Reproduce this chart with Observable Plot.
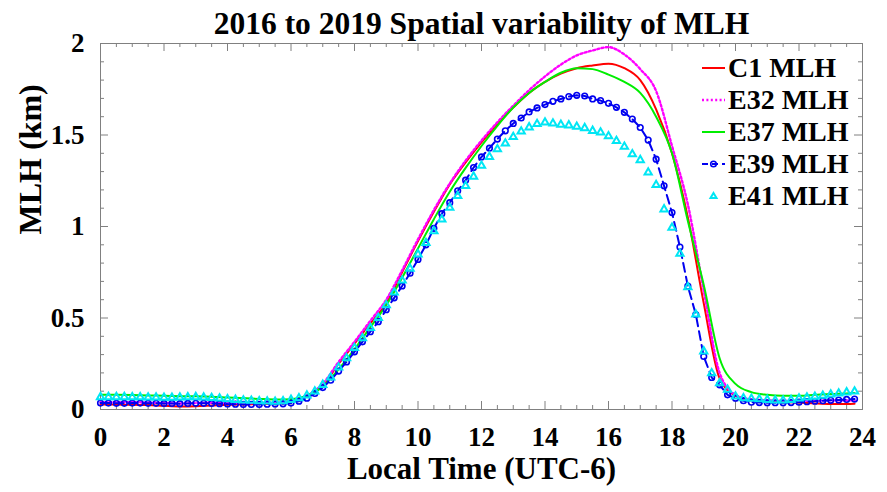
<!DOCTYPE html>
<html><head><meta charset="utf-8">
<script src="https://cdn.jsdelivr.net/npm/d3@7"></script>
<script src="https://cdn.jsdelivr.net/npm/@observablehq/plot@0.6"></script>
<style>
html,body{margin:0;padding:0;background:#fff;}
#wrap{position:relative;width:887px;height:492px;font-family:"Liberation Serif","Times New Roman",serif;}
#legend{position:absolute;left:701px;top:52px;}
.row{display:flex;align-items:center;height:32px;font-weight:bold;font-size:28px;color:#000;line-height:32px;}
.row svg{margin-right:2px;display:block}
</style></head><body>
<div id="wrap"><div id="chart"></div><div id="legend"></div></div>
<script>
// ---- data ----
const titleText = "2016 to 2019 Spatial variability of MLH";
const xLabel = "Local Time (UTC-6)";
const yLabel = "MLH (km)";
const seriesNames = ["C1 MLH", "E32 MLH", "E37 MLH", "E39 MLH", "E41 MLH"];
const xMajor = [0, 2, 4, 6, 8, 10, 12, 14, 16, 18, 20, 22, 24];
const yMajor = [0, 0.5, 1, 1.5, 2];

// half-hourly times (0 ... 23.5, 23.75) for the line series
const hoursHalf = d3.range(0, 24, 0.5).concat([23.75]);
// quarter-hourly times for the marker series
const hoursQuarter = d3.range(0, 24, 0.25);

const c1 = [0.028,0.027,0.026,0.024,0.020,0.017,0.018,0.022,0.026,0.028,0.030,0.032,
  0.040,0.070,0.130,0.250,0.360,0.470,0.580,0.750,0.920,1.080,1.230,1.350,
  1.460,1.560,1.650,1.730,1.790,1.835,1.865,1.880,1.890,1.865,1.800,1.640,
  1.400,1.050,0.580,0.170,0.075,0.050,0.042,0.040,0.038,0.033,0.030,0.030,0.032];
const e32 = [0.040,0.040,0.040,0.038,0.035,0.033,0.035,0.037,0.036,0.035,0.036,0.038,
  0.045,0.075,0.140,0.260,0.370,0.485,0.600,0.760,0.930,1.090,1.235,1.360,
  1.470,1.570,1.660,1.745,1.820,1.885,1.935,1.962,1.980,1.940,1.860,1.740,
  1.440,1.120,0.650,0.200,0.080,0.055,0.050,0.048,0.048,0.048,0.050,0.050,0.050];
const e37 = [0.080,0.080,0.079,0.077,0.075,0.073,0.072,0.070,0.066,0.062,0.058,0.055,
  0.056,0.075,0.125,0.220,0.330,0.450,0.570,0.720,0.880,1.040,1.190,1.320,
  1.440,1.550,1.650,1.730,1.790,1.840,1.865,1.860,1.830,1.790,1.730,1.600,
  1.400,1.030,0.680,0.280,0.140,0.095,0.080,0.075,0.075,0.080,0.085,0.088,0.090];
const e39 = [0.035,0.035,0.034,0.034,0.035,0.035,0.034,0.034,0.033,0.033,0.032,0.033,
  0.034,0.034,0.033,0.032,0.030,0.029,0.028,0.028,0.028,0.029,0.030,0.031,
  0.035,0.045,0.062,0.088,0.120,0.160,0.210,0.260,0.315,0.370,0.425,0.480,
  0.545,0.610,0.675,0.745,0.820,0.900,0.990,1.070,1.130,1.195,1.253,1.322,
  1.380,1.428,1.478,1.523,1.563,1.593,1.626,1.648,1.666,1.684,1.697,1.710,
  1.717,1.713,1.697,1.688,1.673,1.651,1.624,1.587,1.541,1.472,1.368,1.222,
  1.076,0.888,0.674,0.519,0.290,0.175,0.135,0.080,0.062,0.048,0.040,0.038,
  0.037,0.037,0.037,0.038,0.040,0.043,0.045,0.048,0.050,0.052,0.055,0.057];
const e41 = [0.068,0.068,0.068,0.068,0.067,0.067,0.066,0.066,0.065,0.065,0.066,0.067,
  0.068,0.066,0.063,0.060,0.056,0.053,0.050,0.048,0.046,0.044,0.043,0.045,
  0.053,0.062,0.077,0.099,0.135,0.175,0.230,0.280,0.336,0.390,0.446,0.500,
  0.570,0.640,0.705,0.770,0.848,0.910,0.975,1.039,1.103,1.167,1.222,1.273,
  1.332,1.381,1.423,1.454,1.490,1.520,1.542,1.560,1.569,1.563,1.556,1.553,
  1.545,1.538,1.523,1.514,1.494,1.468,1.436,1.395,1.363,1.295,1.227,1.094,
  0.994,0.851,0.668,0.519,0.318,0.199,0.144,0.108,0.071,0.062,0.059,0.056,
  0.053,0.050,0.050,0.052,0.060,0.066,0.070,0.075,0.082,0.088,0.094,0.099];

const colors = {c1:"#ff0000", e32:"#ff00ff", e37:"#00ee00", e39:"#0000f0", e41:"#00e6f4"};

// ---- chart ----
const W = 887, H = 492, mL = 100, mR = 25, mT = 43, mB = 83;
const pw = W - mL - mR, ph = H - mT - mB;
const xMinor = d3.range(0, 24.01, 0.5).filter(v => !xMajor.includes(v));
const yMinor = d3.range(0, 2.001, 0.1).map(v => +v.toFixed(1)).filter(v => !yMajor.includes(v));
const gray = "#808080";
const serif = "Liberation Serif, Times New Roman, serif";
const rows = (hours, vals) => hours.map((h, i) => ({h, v: vals[i]}));

const chart = Plot.plot({
  width: W, height: H,
  marginLeft: mL, marginRight: mR, marginTop: mT, marginBottom: mB,
  style: {fontFamily: serif, background: "white", color: "black", overflow: "visible"},
  x: {domain: [0, 24], label: null},
  y: {domain: [0, 2], label: null},
  marks: [
    // inward ticks on all four sides
    Plot.tickX(xMajor, {x: d => d, insetTop: ph - 8, stroke: gray}),
    Plot.tickX(xMinor, {x: d => d, insetTop: ph - 4, stroke: gray}),
    Plot.tickX(xMajor, {x: d => d, insetBottom: ph - 8, stroke: gray}),
    Plot.tickX(xMinor, {x: d => d, insetBottom: ph - 4, stroke: gray}),
    Plot.tickY(yMajor, {y: d => d, insetRight: pw - 8, stroke: gray}),
    Plot.tickY(yMinor, {y: d => d, insetRight: pw - 4, stroke: gray}),
    Plot.tickY(yMajor, {y: d => d, insetLeft: pw - 8, stroke: gray}),
    Plot.tickY(yMinor, {y: d => d, insetLeft: pw - 4, stroke: gray}),
    Plot.frame({stroke: gray}),
    Plot.axisX({ticks: xMajor, tickSize: 0, tickPadding: 17, fontSize: 27, fontWeight: "bold", tickFormat: d => String(d), label: null}),
    Plot.axisY({ticks: yMajor, tickSize: 0, tickPadding: 16, fontSize: 27, fontWeight: "bold", tickFormat: d => String(d), label: null}),
    // series
    Plot.line(rows(hoursHalf, c1), {x: "h", y: "v", stroke: colors.c1, strokeWidth: 2, curve: "monotone-x"}),
    Plot.line(rows(hoursHalf, e32), {x: "h", y: "v", stroke: colors.e32, strokeWidth: 2.4, strokeDasharray: "2,2.4", curve: "monotone-x"}),
    Plot.line(rows(hoursHalf, e37), {x: "h", y: "v", stroke: colors.e37, strokeWidth: 2, curve: "monotone-x"}),
    Plot.line(rows(hoursQuarter, e39), {x: "h", y: "v", stroke: colors.e39, strokeWidth: 2, strokeDasharray: "9,5"}),
    Plot.dot(rows(hoursQuarter, e39), {x: "h", y: "v", r: 2.8, stroke: colors.e39, strokeWidth: 1.6, fill: "none"}),
    Plot.dot(rows(hoursQuarter, e41), {x: "h", y: "v", symbol: "triangle", r: 2.7, stroke: colors.e41, strokeWidth: 2, fill: "none"}),
    // titles
    Plot.text([titleText], {frameAnchor: "top", lineAnchor: "middle", dy: -20, fontSize: 31.5, fontWeight: "bold", fill: "black"}),
    Plot.text([xLabel], {frameAnchor: "bottom", lineAnchor: "middle", dy: 60, fontSize: 31, fontWeight: "bold", fill: "black"}),
    Plot.text([yLabel], {frameAnchor: "left", lineAnchor: "middle", dx: -70, dy: 8, rotate: -90, fontSize: 32, fontWeight: "bold", fill: "black"})
  ]
});
document.getElementById("chart").appendChild(chart);

// ---- legend ----
const legend = document.getElementById("legend");
const swatches = [
  `<line x1="1" y1="16" x2="24" y2="16" stroke="${colors.c1}" stroke-width="2"/>`,
  `<line x1="1" y1="16" x2="24" y2="16" stroke="${colors.e32}" stroke-width="2.4" stroke-dasharray="2,2.4"/>`,
  `<line x1="1" y1="16" x2="24" y2="16" stroke="${colors.e37}" stroke-width="2"/>`,
  `<line x1="1" y1="16" x2="24" y2="16" stroke="${colors.e39}" stroke-width="2" stroke-dasharray="6,4"/><circle cx="12.5" cy="16" r="2.8" fill="none" stroke="${colors.e39}" stroke-width="1.6"/>`,
  `<path d="M12.5,13 L15.5,18 L9.5,18 Z" fill="none" stroke="${colors.e41}" stroke-width="2"/>`
];
seriesNames.forEach((name, i) => {
  const row = document.createElement("div");
  row.className = "row";
  row.innerHTML = `<svg width="25" height="32">${swatches[i]}</svg><span>${name}</span>`;
  legend.appendChild(row);
});
</script>
</body></html>
